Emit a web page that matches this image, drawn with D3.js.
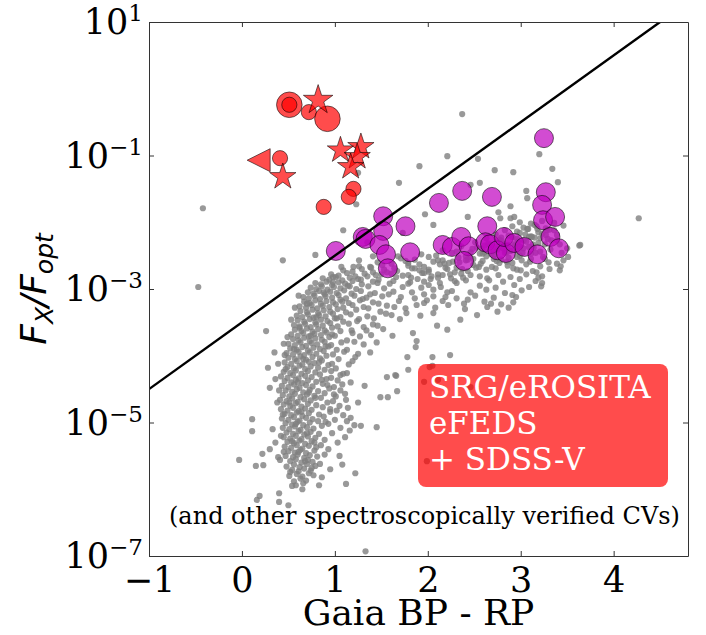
<!DOCTYPE html>
<html>
<head>
<meta charset="utf-8">
<script src="https://cdn.jsdelivr.net/npm/d3@7"></script>
<style>
  body { margin: 0; background: #fff; }
  svg { display: block; }
</style>
</head>
<body>
<svg id="chart" width="706" height="635"></svg>
<script>
// ---------- data ----------
// Axis ticks
const xTicks = [-1, 0, 1, 2, 3, 4];
const yExponents = [1, -1, -3, -5, -7];

// Dividing line: log10(Fx/Fopt) = (BP-RP) - 3.5
const divColor = [-1, 4.8];
const divLogRatio = [-4.5, 1.3];

// Field sources: [Gaia BP-RP, log10(Fx/Fopt)]
const fieldStripe = [
  [0.56,-5.88],[0.63,-5.84],[0.69,-5.87],[0.51,-5.80],[0.59,-5.77],[0.65,-5.81],[0.72,-5.76],[0.77,-5.79],
  [0.54,-5.71],[0.61,-5.73],[0.67,-5.69],[0.74,-5.72],[0.48,-5.66],[0.56,-5.63],[0.62,-5.67],[0.70,-5.62],[0.79,-5.65],
  [0.52,-5.58],[0.58,-5.55],[0.64,-5.60],[0.71,-5.56],[0.76,-5.59],[0.47,-5.50],[0.55,-5.52],[0.60,-5.48],[0.67,-5.53],[0.73,-5.49],[0.81,-5.51],
  [0.50,-5.43],[0.57,-5.45],[0.63,-5.41],[0.69,-5.46],[0.78,-5.42],[0.46,-5.36],[0.53,-5.38],[0.59,-5.34],[0.65,-5.39],[0.72,-5.35],[0.80,-5.37],[0.93,-5.40],
  [0.49,-5.29],[0.56,-5.31],[0.62,-5.27],[0.68,-5.32],[0.75,-5.28],[1.03,-5.30],[0.45,-5.22],[0.52,-5.24],[0.58,-5.20],[0.64,-5.25],[0.71,-5.21],[0.79,-5.23],[0.89,-5.26],[1.11,-5.22],
  [0.48,-5.15],[0.55,-5.17],[0.61,-5.13],[0.67,-5.18],[0.74,-5.14],[0.97,-5.16],[1.16,-5.12],[0.44,-5.08],[0.51,-5.10],[0.57,-5.06],[0.63,-5.11],[0.70,-5.07],[0.77,-5.09],[0.86,-5.05],[1.06,-5.08],
  [0.47,-5.01],[0.54,-5.03],[0.60,-4.99],[0.66,-5.04],[0.73,-5.00],[0.93,-5.02],[1.13,-4.98],[1.21,-5.04],
  [0.43,-4.94],[0.50,-4.96],[0.56,-4.92],[0.62,-4.97],[0.69,-4.93],[0.76,-4.95],[0.88,-4.91],[1.00,-4.96],[1.17,-4.93],
  [0.46,-4.87],[0.53,-4.89],[0.59,-4.85],[0.65,-4.90],[0.72,-4.86],[0.83,-4.88],[0.95,-4.84],[1.09,-4.89],
  [0.42,-4.80],[0.49,-4.82],[0.55,-4.78],[0.61,-4.83],[0.68,-4.79],[0.75,-4.81],[0.87,-4.77],[1.02,-4.82],[1.14,-4.78],
  [0.45,-4.73],[0.52,-4.75],[0.58,-4.71],[0.64,-4.76],[0.71,-4.72],[0.80,-4.74],[0.92,-4.70],[1.05,-4.75],
  [0.41,-4.66],[0.48,-4.68],[0.54,-4.64],[0.60,-4.69],[0.67,-4.65],[0.74,-4.67],[0.85,-4.63],[0.98,-4.68],
  [0.44,-4.59],[0.51,-4.61],[0.57,-4.57],[0.63,-4.62],[0.70,-4.58],[0.78,-4.60],[0.89,-4.56],[1.01,-4.61],[1.11,-4.57],
  [0.47,-4.52],[0.54,-4.54],[0.59,-4.50],[0.66,-4.55],[0.73,-4.51],[0.82,-4.53],[0.94,-4.49],
  [0.43,-4.45],[0.50,-4.47],[0.56,-4.43],[0.62,-4.48],[0.69,-4.44],[0.76,-4.46],[0.87,-4.42],[0.99,-4.47],[1.08,-4.43],
  [0.46,-4.38],[0.53,-4.40],[0.58,-4.36],[0.65,-4.41],[0.71,-4.37],[0.80,-4.39],[0.91,-4.35],
  [0.42,-4.31],[0.49,-4.33],[0.55,-4.29],[0.61,-4.34],[0.68,-4.30],[0.75,-4.32],[0.84,-4.28],[0.96,-4.33],[1.06,-4.29],
  [0.45,-4.24],[0.52,-4.26],[0.58,-4.22],[0.64,-4.27],[0.71,-4.23],[0.79,-4.25],[0.89,-4.21],[1.13,-4.26],
  [0.49,-4.17],[0.56,-4.19],[0.62,-4.15],[0.68,-4.20],[0.74,-4.16],[0.82,-4.18],[0.93,-4.14],[1.01,-4.19],
  [0.46,-4.10],[0.53,-4.12],[0.59,-4.08],[0.65,-4.13],[0.72,-4.09],[0.78,-4.11],[0.86,-4.07],[0.97,-4.12],[1.19,-4.08],
  [0.50,-4.03],[0.57,-4.05],[0.63,-4.01],[0.69,-4.06],[0.76,-4.02],[0.84,-4.04],[0.91,-4.00],[1.04,-4.05],
  [0.48,-3.96],[0.55,-3.98],[0.61,-3.94],[0.67,-3.99],[0.73,-3.95],[0.80,-3.97],[0.88,-3.93],[0.98,-3.98],[1.10,-3.94],[1.25,-3.97],
  [0.52,-3.89],[0.59,-3.91],[0.65,-3.87],[0.71,-3.92],[0.77,-3.88],[0.84,-3.90],[0.93,-3.86],[1.02,-3.91],
  [0.50,-3.82],[0.57,-3.84],[0.63,-3.80],[0.69,-3.85],[0.75,-3.81],[0.81,-3.83],[0.89,-3.79],[0.96,-3.84],[1.07,-3.80],[1.31,-3.83],
  [0.55,-3.75],[0.61,-3.77],[0.67,-3.73],[0.73,-3.78],[0.79,-3.74],[0.86,-3.76],[0.94,-3.72],[1.13,-3.77],
  [0.53,-3.68],[0.60,-3.70],[0.66,-3.66],[0.72,-3.71],[0.78,-3.67],[0.85,-3.69],[0.91,-3.65],[1.00,-3.70],[1.19,-3.66],[1.39,-3.69],
  [0.57,-3.61],[0.64,-3.63],[0.70,-3.59],[0.76,-3.64],[0.82,-3.60],[0.89,-3.62],[0.97,-3.58],[1.06,-3.63],
  [0.56,-3.54],[0.62,-3.56],[0.68,-3.52],[0.74,-3.57],[0.80,-3.53],[0.87,-3.55],[0.95,-3.51],[1.03,-3.56],[1.15,-3.52],[1.46,-3.55],
  [0.60,-3.47],[0.67,-3.49],[0.73,-3.45],[0.79,-3.50],[0.85,-3.46],[0.92,-3.48],[1.00,-3.44],[1.09,-3.49],[1.26,-3.45],
  [0.59,-3.40],[0.65,-3.42],[0.71,-3.38],[0.77,-3.43],[0.83,-3.39],[0.90,-3.41],[0.98,-3.37],[1.06,-3.42],[1.17,-3.38],[1.35,-3.41],[1.61,-3.39],
  [0.63,-3.33],[0.70,-3.35],[0.76,-3.31],[0.82,-3.36],[0.88,-3.32],[0.95,-3.34],[1.03,-3.30],[1.12,-3.35],[1.23,-3.31],[1.49,-3.34],
  [0.58,-5.94],[0.66,-5.91],[0.52,-5.74],[0.75,-5.68],[0.68,-5.58],[0.61,-5.44],[0.54,-5.28],[0.70,-5.16],
  [0.58,-5.02],[0.64,-4.84],[0.51,-4.70],[0.72,-4.55],[0.60,-4.40],[0.47,-4.20],[0.66,-4.05],[0.56,-3.90],
  [0.74,-3.70],[0.62,-3.58],[0.80,-3.42],[0.78,-5.30],[0.82,-4.98],[0.79,-4.63],[0.86,-4.36],[0.83,-4.10],
  [0.90,-3.86],[0.97,-3.68],[1.02,-3.44],[0.44,-4.88],[0.40,-4.52],[0.42,-5.20],[0.45,-5.44],[0.39,-4.12],
  [0.46,-3.99],[0.49,-3.72],[0.53,-3.46],[0.57,-3.28],[0.61,-3.10],
  [1.13,-3.91],[1.21,-3.79],[1.27,-3.71],[1.34,-3.62],[1.41,-3.53],[1.22,-4.02],[1.15,-4.13],[1.09,-4.27],
  [1.17,-4.40],[1.06,-4.52],[1.12,-4.66],[1.03,-4.37],[0.96,-4.23],[0.92,-4.44],[0.99,-4.58],[0.95,-4.80],
  [0.90,-4.99],[0.83,-5.17],[0.85,-5.34],[0.89,-5.48],[0.84,-5.62]
];

const fieldElbow = [
  [0.62,-3.26],[0.69,-3.28],[0.75,-3.24],[0.81,-3.29],[0.87,-3.25],[0.94,-3.27],[1.01,-3.23],[1.09,-3.28],[1.19,-3.24],[1.31,-3.27],[1.56,-3.25],[1.76,-3.29],
  [0.67,-3.19],[0.73,-3.21],[0.79,-3.17],[0.85,-3.22],[0.91,-3.18],[0.98,-3.20],[1.06,-3.16],[1.15,-3.21],[1.27,-3.17],[1.41,-3.20],[1.69,-3.18],
  [0.66,-3.12],[0.72,-3.14],[0.78,-3.10],[0.84,-3.15],[0.90,-3.11],[0.97,-3.13],[1.04,-3.09],[1.12,-3.14],[1.21,-3.10],[1.34,-3.13],[1.51,-3.11],[1.86,-3.14],
  [0.71,-3.05],[0.77,-3.07],[0.83,-3.03],[0.89,-3.08],[0.95,-3.04],[1.02,-3.06],[1.10,-3.02],[1.18,-3.07],[1.28,-3.03],[1.43,-3.06],[1.63,-3.04],[1.96,-3.08],[2.21,-3.05],
  [0.74,-2.98],[0.80,-3.00],[0.86,-2.96],[0.92,-3.01],[0.99,-2.97],[1.06,-2.99],[1.14,-2.95],[1.23,-3.00],[1.36,-2.96],[1.53,-2.99],[1.73,-2.97],[2.06,-3.01],
  [0.79,-2.91],[0.85,-2.93],[0.91,-2.89],[0.97,-2.94],[1.04,-2.90],[1.11,-2.92],[1.19,-2.88],[1.29,-2.93],[1.41,-2.89],[1.59,-2.92],[1.81,-2.90],[2.01,-2.94],[2.31,-2.91],
  [0.87,-2.84],[0.94,-2.86],[1.01,-2.82],[1.08,-2.87],[1.16,-2.83],[1.25,-2.85],[1.35,-2.81],[1.47,-2.86],[1.66,-2.82],[1.89,-2.85],[2.11,-2.83],[2.41,-2.87],
  [0.96,-2.78],[1.04,-2.80],[1.13,-2.76],[1.22,-2.81],[1.32,-2.77],[1.44,-2.79],[1.56,-2.75],[1.73,-2.80],[1.94,-2.76],[2.16,-2.79],[2.36,-2.77],[2.56,-2.81],
  [0.70,-3.22],[0.88,-3.05],[0.98,-2.90],[1.08,-3.19],[1.16,-2.96],[1.28,-2.86],[1.38,-3.08],[1.50,-2.78],
  [1.18,-3.62],[1.24,-3.48],[1.31,-3.57],[1.36,-3.29],[1.42,-3.44],[1.47,-3.22],[1.55,-3.37],[1.58,-3.08],
  [1.64,-3.27],[1.71,-3.12],[1.77,-3.36],[1.83,-3.05],[1.88,-3.24],[1.93,-2.98],[1.99,-3.17],[2.03,-2.85],
  [2.08,-3.28],[2.14,-2.97],[2.19,-3.12],[2.25,-2.84]
];

const fieldBranch = [
  [1.09,-2.72],[1.19,-2.74],[1.29,-2.70],[1.41,-2.75],[1.53,-2.71],[1.67,-2.73],[1.83,-2.69],[2.01,-2.74],[2.21,-2.70],[2.43,-2.73],[2.63,-2.71],
  [1.26,-2.66],[1.39,-2.68],[1.51,-2.64],[1.64,-2.69],[1.79,-2.65],[1.96,-2.67],[2.13,-2.63],[2.31,-2.68],[2.49,-2.64],[2.69,-2.67],[2.86,-2.65],
  [1.46,-2.60],[1.61,-2.62],[1.76,-2.58],[1.91,-2.63],[2.06,-2.59],[2.23,-2.61],[2.41,-2.57],[2.57,-2.62],[2.74,-2.58],[2.91,-2.61],
  [1.71,-2.54],[1.86,-2.56],[2.01,-2.52],[2.16,-2.57],[2.33,-2.53],[2.49,-2.55],[2.63,-2.51],[2.79,-2.56],[2.96,-2.52],[3.11,-2.55],
  [1.93,-2.48],[2.09,-2.50],[2.26,-2.46],[2.41,-2.51],[2.56,-2.47],[2.71,-2.49],[2.85,-2.45],[2.99,-2.50],[3.16,-2.46],
  [2.16,-2.42],[2.31,-2.44],[2.48,-2.40],[2.61,-2.45],[2.75,-2.41],[2.89,-2.43],[3.03,-2.39],[3.21,-2.44],
  [2.36,-2.36],[2.53,-2.38],[2.67,-2.34],[2.81,-2.39],[2.94,-2.35],[3.09,-2.37],[3.26,-2.33],
  [2.51,-2.30],[2.65,-2.32],[2.79,-2.28],[2.93,-2.33],[3.06,-2.29],[3.19,-2.31],[3.33,-2.27],
  [2.63,-2.24],[2.77,-2.26],[2.91,-2.22],[3.03,-2.27],[3.15,-2.23],[3.29,-2.25],
  [2.73,-2.18],[2.87,-2.20],[2.99,-2.16],[3.11,-2.21],[3.23,-2.17],[3.39,-2.19],
  [2.83,-2.12],[2.96,-2.14],[3.07,-2.10],[3.19,-2.15],[3.31,-2.11],
  [2.91,-2.06],[3.03,-2.08],[3.15,-2.04],[3.27,-2.09],[3.46,-2.05],
  [2.99,-2.00],[3.11,-2.02],[3.23,-1.98],[3.36,-2.01],
  [1.96,-3.21],[2.16,-3.18],[2.39,-3.22],[2.61,-3.19],[2.79,-3.23],
  [2.06,-3.11],[2.31,-3.14],[2.51,-3.10],[2.71,-3.13],[2.91,-3.09],
  [2.26,-3.03],[2.46,-3.05],[2.63,-3.01],[2.83,-3.06],[3.01,-3.02],
  [2.56,-2.95],[2.73,-2.98],[2.93,-2.94],[3.09,-2.97],
  [2.66,-2.87],[2.81,-2.89],[2.99,-2.85],[3.16,-2.88],
  [2.76,-2.79],[2.89,-2.82],[3.06,-2.78],[3.23,-2.81],
  [2.96,-2.71],[3.13,-2.73],[3.31,-2.70],
  [3.06,-2.63],[3.21,-2.66],[3.39,-2.62],
  [3.26,-2.55],[3.46,-2.57],
  [1.46,-2.91],[1.63,-2.88],[1.79,-2.92],[1.96,-2.89],[2.13,-2.91],[2.29,-2.88],
  [1.61,-2.77],[1.79,-2.79],[1.96,-2.76],[2.11,-2.78],[2.29,-2.75],[2.46,-2.79],
  [1.86,-2.69],[2.01,-2.71],[2.19,-2.68],[2.37,-2.70],[2.55,-2.67],[2.73,-2.69],
  [2.11,-2.57],[2.27,-2.59],[2.43,-2.56],[2.59,-2.58],[2.71,-2.55],[2.85,-2.59],[3.01,-2.57],
  [2.46,-2.45],[2.59,-2.47],[2.71,-2.44],[2.83,-2.46],[2.96,-2.43],[3.11,-2.47],
  [2.61,-2.35],[2.73,-2.37],[2.86,-2.34],[2.99,-2.36],[3.13,-2.33],
  [2.79,-2.23],[2.96,-2.25],[3.09,-2.22],[3.21,-2.24],
  [1.82,-2.83],[1.91,-2.72],[2.04,-2.81],[2.18,-2.62],[2.24,-2.78],[2.34,-2.60],[2.38,-2.83],[2.45,-2.52],
  [2.52,-2.68],[2.58,-2.40],[2.64,-2.84],[2.68,-2.48],[2.77,-2.61],[2.81,-2.32],[2.87,-2.53],[2.92,-2.69],
  [2.97,-2.29],[3.02,-2.46],[3.05,-2.18],[3.10,-2.59],[3.14,-2.38],[3.17,-2.06],[3.24,-2.52],[3.27,-2.19],
  [3.32,-2.41],[3.36,-2.12],[3.42,-2.33],[3.44,-2.46],[3.30,-2.60],[3.19,-2.83],[2.95,-3.12],[2.68,-3.22],
  [2.43,-3.16],[2.22,-3.24],[2.87,-3.28]
];

const fieldScatter = [
  [-0.47,-2.97],[-0.42,-1.79],[0.44,-2.57],[0.79,-2.49],[1.09,-2.12],[1.07,-2.67],[1.20,-2.67],[0.98,-2.82],
  [1.69,-1.41],[1.91,-1.16],[1.97,-1.88],[2.06,-2.04],[1.73,-2.16],[1.68,-2.51],[1.79,-2.61],[1.41,-2.51],
  [1.38,-2.67],[1.26,-2.57],[1.23,-1.73],[1.25,-1.26],[1.35,-2.30],
  [2.21,-1.01],[2.54,-1.05],[2.72,-1.22],[2.92,-1.25],[3.20,-0.98],[3.34,-1.20],[3.40,-1.40],[3.06,-1.53],
  [3.07,-1.64],[2.56,-1.41],[2.46,-1.44],[2.76,-1.85],[2.89,-1.76],[2.78,-1.94],[2.89,-1.94],[2.93,-1.92],
  [2.43,-1.92],[3.08,-2.10],[3.18,-2.10],[3.12,-2.22],[3.28,-2.12],[3.39,-2.27],[3.50,-2.39],[3.64,-2.34],
  [3.43,-2.66],[3.51,-2.52],[3.23,-2.91],[3.17,-2.75],[3.00,-2.72],[4.27,-1.94],[2.37,-0.38],
  [0.26,-3.63],[0.45,-3.82],[0.28,-4.18],[0.36,-4.35],[0.30,-4.48],[0.11,-4.95],[0.11,-5.13],[-0.03,-5.56],
  [0.15,-5.65],[0.22,-5.47],[0.30,-5.40],[0.23,-5.64],[0.16,-6.16],[0.19,-6.10],[0.40,-6.06],[0.40,-6.19],
  [0.50,-6.24],[0.54,-5.95],[0.65,-6.00],[0.83,-5.94],[1.12,-5.92],[1.22,-5.76],[1.33,-6.93],[0.39,-5.52],
  [0.41,-5.56],[1.08,-5.63],[1.45,-5.07],[1.66,-4.30],[1.57,-4.62],[1.67,-4.53],[1.78,-4.02],[1.79,-4.21],
  [1.87,-3.87],[1.88,-3.78],[2.06,-3.36],
  [1.56,-4.32],[1.65,-4.29],[1.49,-4.62],[2.02,-4.17],[2.05,-4.02],[2.24,-3.99],[1.84,-3.66],[2.21,-3.61],
  [2.35,-3.46],[2.53,-3.39],[2.75,-3.34],[2.64,-3.27],[2.92,-3.20],[3.22,-2.96],[3.42,-2.72],[3.63,-2.35],
  [2.05,-4.15],[1.96,-4.39],[2.11,-4.36],[2.46,-4.47],[1.99,-5.58],
  [1.25,-4.70],[1.32,-4.45],[1.28,-5.05],[1.38,-3.95],[1.45,-3.80],[1.52,-3.60],[1.70,-3.45],[0.35,-3.95],
  [0.38,-4.70],[0.33,-5.10],[0.36,-5.30],[0.95,-5.70],[1.05,-5.50],[0.86,-5.82],[1.30,-3.15],[1.62,-3.70],
  [1.92,-3.40],[2.40,-3.30],[2.10,-3.55]
];

// Spectroscopically verified CVs (magenta)
const cvColor = [1.01, 1.30, 1.33, 1.52, 1.52, 1.48, 1.55, 1.57, 1.76, 1.81, 2.12, 2.37, 2.69, 2.64,
  2.16, 2.26, 2.36, 2.44, 2.39, 2.62, 2.67, 2.75, 2.84, 2.82, 2.93, 3.04, 3.18, 3.27, 3.23, 3.24, 3.37,
  3.32, 3.41, 3.25];
const cvLogRatio = [-2.43, -2.22, -2.25, -1.91, -2.13, -2.34, -2.48, -2.69, -2.06, -2.45, -1.71, -1.53,
  -1.62, -2.06, -2.34, -2.37, -2.22, -2.36, -2.58, -2.30, -2.33, -2.42, -2.46, -2.22, -2.31, -2.37, -2.48,
  -1.55, -1.74, -1.97, -1.92, -2.22, -2.39, -0.74];

// eFEDS + SDSS-V CVs (red)
const efColor = [0.51, 0.51, 0.72, 0.92, 0.82, 0.18, 0.41, 0.44, 1.06, 1.28, 1.24, 1.17, 1.20, 1.15, 0.88];
const efLogRatio = [-0.24, -0.24, -0.35, -0.45, -0.17, -1.07, -1.04, -1.32, -0.92, -0.87, -1.02, -1.17,
  -1.50, -1.62, -1.77];
const efMarker = ["circle", "circle", "circle", "circle", "star", "triangle", "circle", "star", "star",
  "star", "star", "star", "circle", "circle", "circle"];
const efClass = ["large", "small", "small", "large", "large", "small", "small", "small", "small",
  "small", "small", "small", "small", "small", "small"];

const boxLines = ["SRG/eROSITA", "eFEDS", "+ SDSS-V"];
const noteText = "(and other spectroscopically verified CVs)";
const xTitle = "Gaia BP - RP";

// ---------- layout ----------
const svg = d3.select("#chart");
const plot = { left: 149, right: 688, top: 22, bottom: 556 };

const x = d3.scaleLinear().domain([-1, 4.8]).range([plot.left, plot.right]);
const y = d3.scaleLog().domain([1e-7, 10]).range([plot.bottom, plot.top]);

const serif = "'DejaVu Serif', serif";
const sans = "'DejaVu Sans', sans-serif";

svg.append("defs").append("clipPath").attr("id", "plot-clip")
  .append("rect")
  .attr("x", plot.left).attr("y", plot.top)
  .attr("width", plot.right - plot.left).attr("height", plot.bottom - plot.top);

const body = svg.append("g").attr("clip-path", "url(#plot-clip)");

// field sources
const field = [...fieldStripe, ...fieldElbow, ...fieldBranch, ...fieldScatter];
body.append("g")
  .selectAll("circle")
  .data(field)
  .join("circle")
  .attr("cx", d => x(d[0]))
  .attr("cy", d => y(Math.pow(10, d[1])))
  .attr("r", 3.1)
  .attr("fill", "#808080")
  .attr("fill-opacity", 0.8);

// magenta CVs
body.append("g")
  .selectAll("circle")
  .data(cvColor.map((c, i) => [c, cvLogRatio[i]]))
  .join("circle")
  .attr("cx", d => x(d[0]))
  .attr("cy", d => y(Math.pow(10, d[1])))
  .attr("r", 9.5)
  .attr("fill", "#bf00bf")
  .attr("fill-opacity", 0.7)
  .attr("stroke", "#000")
  .attr("stroke-opacity", 0.7)
  .attr("stroke-width", 0.8);

// red eFEDS markers
const leftTriangle = {
  draw(ctx, size) {
    const s = Math.sqrt(size) / 2;
    ctx.moveTo(-s, 0);
    ctx.lineTo(s, -s);
    ctx.lineTo(s, s);
    ctx.closePath();
  }
};
const markerPath = (kind, cls) => {
  if (kind === "star") return d3.symbol(d3.symbolStar, cls === "large" ? 270 : 215)();
  if (kind === "triangle") return d3.symbol(leftTriangle, 23 * 23)();
  const r = cls === "large" ? 12.8 : 7.6;
  return d3.symbol(d3.symbolCircle, Math.PI * r * r)();
};
body.append("g")
  .selectAll("path")
  .data(efColor.map((c, i) => ({ c, v: efLogRatio[i], m: efMarker[i], k: efClass[i] })))
  .join("path")
  .attr("transform", d => `translate(${x(d.c)},${y(Math.pow(10, d.v))})`)
  .attr("d", d => markerPath(d.m, d.k))
  .attr("fill", "#ff0000")
  .attr("fill-opacity", 0.7)
  .attr("stroke", "#000")
  .attr("stroke-opacity", 0.7)
  .attr("stroke-width", 0.8);

// dividing line
body.append("path")
  .datum(divColor.map((c, i) => [c, divLogRatio[i]]))
  .attr("d", d3.line().x(d => x(d[0])).y(d => y(Math.pow(10, d[1]))))
  .attr("fill", "none")
  .attr("stroke", "#000")
  .attr("stroke-width", 2.4);

// survey label box
const box = svg.append("g");
box.append("rect")
  .attr("x", 418).attr("y", 364)
  .attr("width", 250).attr("height", 123)
  .attr("rx", 8)
  .attr("fill", "#ff0000")
  .attr("fill-opacity", 0.7);
box.selectAll("text")
  .data(boxLines)
  .join("text")
  .attr("x", 429)
  .attr("y", (d, i) => 398 + i * 36)
  .attr("fill", "#fff")
  .style("font-family", serif)
  .style("font-size", "31px")
  .text(d => d);

svg.append("text")
  .attr("x", 169).attr("y", 524)
  .style("font-family", serif)
  .style("font-size", "24px")
  .attr("fill", "#000")
  .text(noteText);

// ---------- axes ----------
const axisColor = "#333";
const styleAxis = g => {
  g.selectAll(".domain").attr("stroke", axisColor);
  g.selectAll(".tick line").attr("stroke", axisColor);
};

svg.append("g")
  .attr("transform", `translate(0,${plot.bottom})`)
  .call(d3.axisBottom(x).tickValues(xTicks).tickSize(-5).tickSizeOuter(0).tickPadding(11)
    .tickFormat(d3.format("d")))
  .call(styleAxis)
  .call(g => g.selectAll(".tick text")
    .style("font-family", serif).style("font-size", "35px").attr("fill", "#000"));

svg.append("g")
  .attr("transform", `translate(0,${plot.top})`)
  .call(d3.axisTop(x).tickValues(xTicks).tickSize(-5).tickSizeOuter(0).tickFormat(""))
  .call(styleAxis);

const yTickValues = yExponents.map(e => Math.pow(10, e));
svg.append("g")
  .attr("transform", `translate(${plot.left},0)`)
  .call(d3.axisLeft(y).tickValues(yTickValues).tickSize(-5).tickSizeOuter(0).tickFormat(""))
  .call(styleAxis);

svg.append("g")
  .attr("transform", `translate(${plot.right},0)`)
  .call(d3.axisRight(y).tickValues(yTickValues).tickSize(-5).tickSizeOuter(0).tickFormat(""))
  .call(styleAxis);

// power-of-ten tick labels
const yLabels = svg.append("g")
  .selectAll("text")
  .data(yExponents)
  .join("text")
  .attr("x", 143)
  .attr("y", e => y(Math.pow(10, e)) + 12)
  .attr("text-anchor", "end")
  .style("font-family", serif)
  .style("font-size", "35px")
  .attr("fill", "#000");
yLabels.append("tspan").text("10");
yLabels.append("tspan")
  .attr("dy", -13)
  .style("font-size", "23px")
  .text(e => (e < 0 ? "\u2212" : "") + Math.abs(e));

// axis titles
svg.append("text")
  .attr("x", (plot.left + plot.right) / 2)
  .attr("y", 625)
  .attr("text-anchor", "middle")
  .style("font-family", serif)
  .style("font-size", "36px")
  .attr("fill", "#000")
  .text(xTitle);

const yTitle = svg.append("text")
  .attr("transform", `translate(46,${(plot.top + plot.bottom) / 2}) rotate(-90)`)
  .attr("text-anchor", "middle")
  .style("font-family", sans)
  .style("font-style", "italic")
  .style("font-size", "36px")
  .attr("fill", "#000");
yTitle.append("tspan").text("F");
yTitle.append("tspan").attr("dy", 7).style("font-size", "25px").text("X");
yTitle.append("tspan").attr("dy", -7).text("/F");
yTitle.append("tspan").attr("dy", 7).style("font-size", "25px").text("opt");
</script>
</body>
</html>
